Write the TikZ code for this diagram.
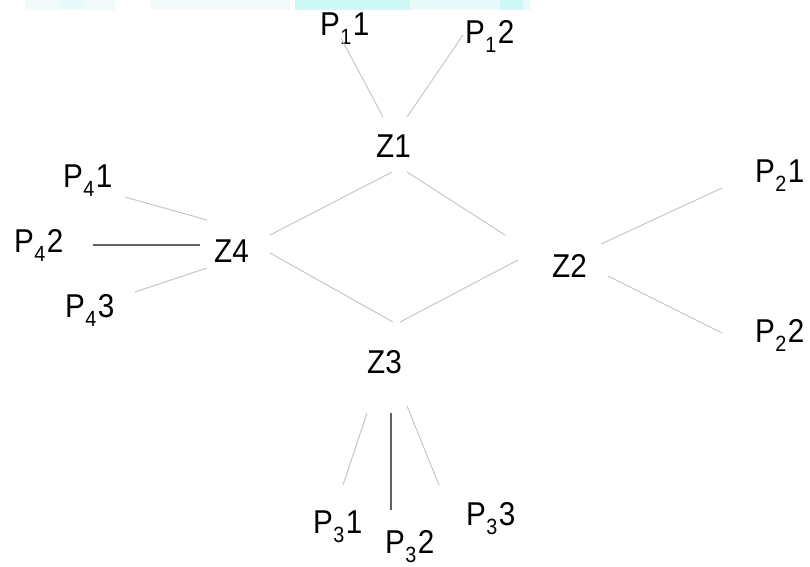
\documentclass[tikz,border=0pt]{standalone}
\usepackage{fontspec}
\setmainfont{Liberation Sans}
\usepackage{graphicx}
\newcommand\plab[2]{\scalebox{0.9}[1]{P\kern0.5pt\raisebox{-9pt}{\fontsize{22}{22}\selectfont #1}\kern1.5pt#2}}
\newcommand\zlab[1]{\scalebox{0.9}[1]{#1}}
\definecolor{bannerA}{RGB}{205,248,246}
\definecolor{bannerB}{RGB}{232,250,250}
\definecolor{bannerC}{RGB}{242,250,250}
\begin{document}
\begin{tikzpicture}[x=1pt,y=-1pt,
  lbl/.style={inner sep=0pt,anchor=base west,font=\fontsize{33}{40}\selectfont},
  conn/.style={draw=black!22,line width=1pt},
  darkconn/.style={draw=black!62,line width=1.4pt}]
\useasboundingbox (0,0) rectangle (810,566);
% faint banner at top
\fill[bannerC] (25,0) rectangle (115,10);
\fill[bannerB] (60,0) rectangle (85,10);
\fill[bannerC] (150,0) rectangle (290,9);
\fill[bannerA] (295,0) rectangle (410,10);
\fill[bannerB] (410,0) rectangle (530,10);
\fill[bannerA] (500,0) rectangle (523,10);
% nodes
\node[lbl] (p11) at (320,35) {\plab{1}{1}};
\node[lbl] (p12) at (465,43) {\plab{1}{2}};
\node[lbl] (z1) at (376,157) {\zlab{Z1}};
\node[lbl] (p41) at (63,187) {\plab{4}{1}};
\node[lbl] (p42) at (14,252) {\plab{4}{2}};
\node[lbl] (p43) at (65,317) {\plab{4}{3}};
\node[lbl] (z4) at (214,262) {\zlab{Z4}};
\node[lbl] (z2) at (552,277) {\zlab{Z2}};
\node[lbl] (p21) at (755,182) {\plab{2}{1}};
\node[lbl] (p22) at (755,342) {\plab{2}{2}};
\node[lbl] (z3) at (367,373) {\zlab{Z3}};
\node[lbl] (p31) at (313,533) {\plab{3}{1}};
\node[lbl] (p32) at (385,553) {\plab{3}{2}};
\node[lbl] (p33) at (466,525) {\plab{3}{3}};
% connectors
\draw[conn] ([shift={(21,3)}]p11.base west) -- ([shift={(7,-40)}]z1.base west);
\draw[conn] ([shift={(-2,-8)}]p12.base west) -- ([shift={(31,-40)}]z1.base west);
\draw[conn] ([shift={(16,15)}]z1.base west) -- ([shift={(56,-27)}]z4.base west);
\draw[conn] ([shift={(31,15)}]z1.base west) -- ([shift={(-47,-42)}]z2.base west);
\draw[conn] ([shift={(56,-9)}]z4.base west) -- ([shift={(26,-51)}]z3.base west);
\draw[conn] ([shift={(-34,-17)}]z2.base west) -- ([shift={(33,-51)}]z3.base west);
\draw[conn] ([shift={(62,10)}]p41.base west) -- ([shift={(-7,-42)}]z4.base west);
\draw[darkconn] ([shift={(79,-7)}]p42.base west) -- ([shift={(-14,-17)}]z4.base west);
\draw[conn] ([shift={(70,-25)}]p43.base west) -- ([shift={(-7,6)}]z4.base west);
\draw[conn] ([shift={(49,-33)}]z2.base west) -- ([shift={(-33,6)}]p21.base west);
\draw[conn] ([shift={(56,-1)}]z2.base west) -- ([shift={(-33,-9)}]p22.base west);
\draw[conn] ([shift={(0,40)}]z3.base west) -- ([shift={(30,-48)}]p31.base west);
\draw[darkconn] ([shift={(24,40)}]z3.base west) -- ([shift={(6,-43)}]p32.base west);
\draw[conn] ([shift={(40,33)}]z3.base west) -- ([shift={(-27,-40)}]p33.base west);
\end{tikzpicture}
\end{document}
